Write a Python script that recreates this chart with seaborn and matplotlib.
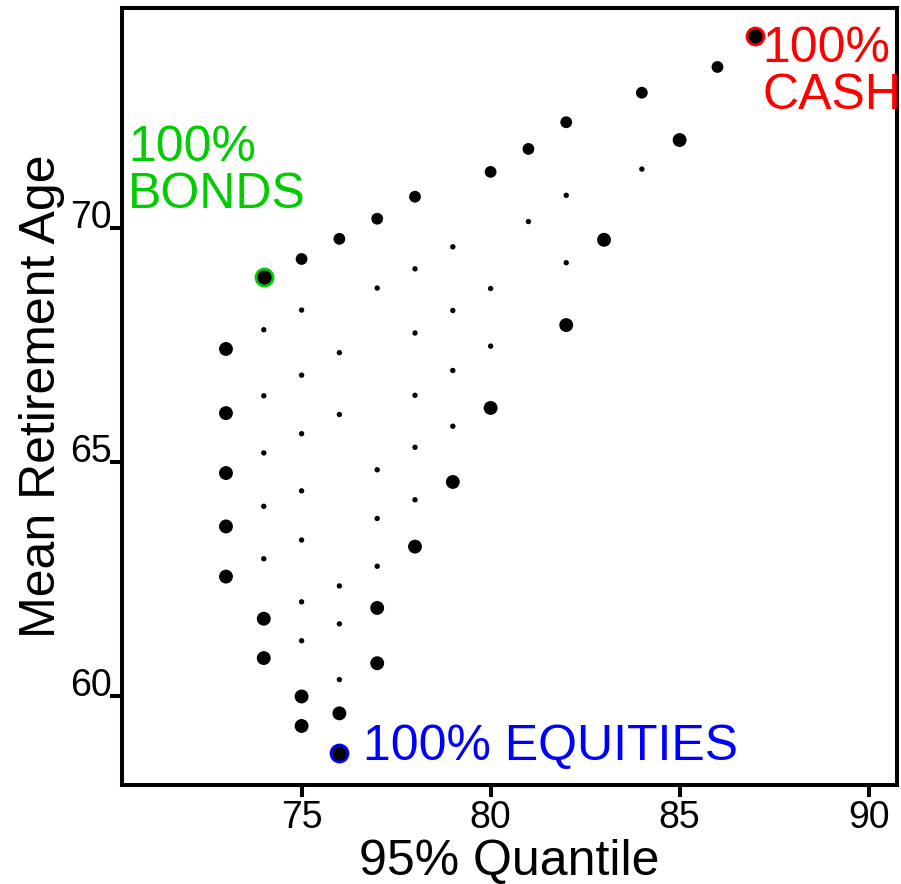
import matplotlib
matplotlib.use("Agg")
import matplotlib.pyplot as plt
import seaborn as sns
import pandas as pd

# ---- data ----
quantile_95 = [
    73, 73, 73, 73, 73,
    74, 74, 74, 74, 74, 74, 74,
    75, 75, 75, 75, 75, 75, 75, 75, 75, 75,
    76, 76, 76, 76, 76, 76, 76,
    77, 77, 77, 77, 77, 77, 77,
    78, 78, 78, 78, 78, 78, 78,
    79, 79, 79, 79, 79,
    80, 80, 80, 80,
    81, 81,
    82, 82, 82, 82,
    83,
    84, 84,
    85,
    86,
]
mean_ret_age = [
    67.42, 66.05, 64.77, 63.63, 62.56,
    67.83, 66.42, 65.20, 64.06, 62.94, 61.66, 60.82,
    69.34, 68.25, 66.86, 65.61, 64.39, 63.34, 62.02, 61.19, 60.00, 59.37,
    69.77, 67.34, 66.02, 62.36, 61.55, 60.36, 59.64,
    70.20, 68.72, 64.84, 63.80, 62.78, 61.89, 60.71,
    70.67, 69.13, 67.76, 66.43, 65.32, 64.20, 63.20,
    69.60, 68.24, 66.96, 65.77, 64.58,
    71.20, 68.71, 67.48, 66.16,
    71.69, 70.14,
    72.26, 70.70, 69.26, 67.93,
    69.75,
    72.89, 71.26,
    71.88,
    73.44,
]
point_group = [
    "edge", "edge", "edge", "edge", "edge",
    "interior", "interior", "interior", "interior", "interior", "edge", "edge",
    "top", "interior", "interior", "interior", "interior", "interior", "interior", "interior", "edge", "edge",
    "top", "interior", "interior", "interior", "interior", "interior", "edge",
    "top", "interior", "interior", "interior", "interior", "edge", "edge",
    "top", "interior", "interior", "interior", "interior", "interior", "edge",
    "interior", "interior", "interior", "interior", "edge",
    "top", "interior", "interior", "edge",
    "top", "interior",
    "top", "interior", "interior", "edge",
    "edge",
    "top", "interior",
    "edge",
    "top",
]

corner_labels = ["100%\nBONDS", "100%\nCASH", "100% EQUITIES"]
corner_x = [74, 87, 76]
corner_y = [68.96, 74.10, 58.79]
corner_colors = ["#00CC00", "#FF0000", "#0000FF"]
corner_text_x = [70.41, 87.18, 76.63]
corner_text_y = [72.20, 74.32, 58.65]
corner_text_va = ["top", "top", "baseline"]

x_ticks = [75, 80, 85, 90]
y_ticks = [60, 65, 70]

# ---- plot ----
sns.set_style("white")
plt.rcParams["font.family"] = ["Liberation Sans", "DejaVu Sans"]
plt.rcParams["text.color"] = "black"
plt.rcParams["axes.labelcolor"] = "black"
plt.rcParams["xtick.color"] = "black"
plt.rcParams["ytick.color"] = "black"

fig = plt.figure(figsize=(9.01, 8.84), dpi=100)
ax = fig.add_axes([0.1354, 0.112, 0.8602, 0.879])

df = pd.DataFrame({"q": quantile_95, "age": mean_ret_age, "grp": point_group})
sns.scatterplot(data=df, x="q", y="age", size="grp",
                sizes={"edge": 100, "top": 72, "interior": 15},
                color="black", linewidth=0, legend=False, ax=ax, zorder=3)

cdf = pd.DataFrame({"q": corner_x, "age": corner_y, "lab": corner_labels})
for i in range(len(corner_x)):
    sns.scatterplot(data=cdf.iloc[[i]], x="q", y="age", s=150, color="black",
                    edgecolor=corner_colors[i], linewidth=2.0, legend=False,
                    ax=ax, zorder=4)
    ax.text(corner_text_x[i], corner_text_y[i], corner_labels[i],
            color=corner_colors[i], fontsize=36, ha="left",
            va=corner_text_va[i], linespacing=1.03, zorder=5)

ax.set_xlim(70.25, 90.75)
ax.set_ylim(58.11, 74.70)
ax.set_xticks(x_ticks)
ax.set_yticks(y_ticks)
ax.set_xticklabels([str(t) for t in x_ticks], fontsize=27, color="black")
ax.set_yticklabels([str(t) for t in y_ticks], fontsize=27, color="black")
for lbl in ax.get_yticklabels():
    lbl.set_va("baseline")

for sp in ax.spines.values():
    sp.set_visible(True)
    sp.set_linewidth(2.9)
    sp.set_color("black")

ax.tick_params(axis="both", which="major", direction="out", length=8.5,
               width=2.9, color="black", left=True, bottom=True)
ax.tick_params(axis="x", pad=2)
ax.tick_params(axis="y", pad=-1)

ax.set_xlabel("95% Quantile", fontsize=36, va="baseline", color="black")
ax.set_ylabel("Mean Retirement Age", fontsize=36, va="center", color="black")
ax.xaxis.set_label_coords(0.5, -0.1158)
ax.yaxis.set_label_coords(-0.103, 0.5)
ax.grid(False)

fig.savefig("out.png", dpi=100)
